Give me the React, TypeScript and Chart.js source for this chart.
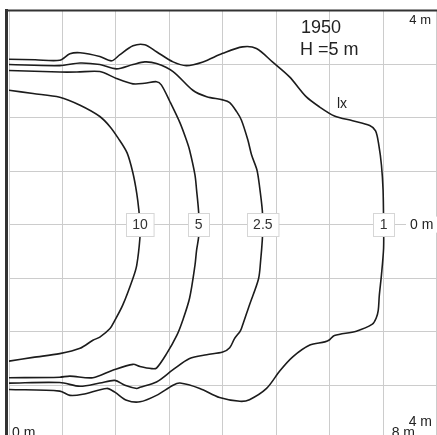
import { useEffect, useRef } from "react";
import { Chart, registerables } from "chart.js";

Chart.register(...registerables);

// Isolux contours (metres): x along the road, y across (0 = luminaire axis)
const levels = ["10", "5", "2.5", "1"];
const levelCrossX = [2.45, 3.55, 4.75, 7.01];

const x10 = [0, 0.45, 0.95, 1.33, 1.70, 1.89, 2.04, 2.21, 2.32, 2.39, 2.43, 2.45,
  2.45, 2.39, 2.32, 2.13, 1.98, 1.89, 1.70, 1.57, 1.33, 0.95, 0.45, 0];
const y10 = [2.51, 2.45, 2.38, 2.23, 2.02, 1.83, 1.62, 1.34, 0.96, 0.59, 0.27, 0,
  -0.25, -0.76, -1.00, -1.50, -1.79, -1.94, -2.10, -2.16, -2.31, -2.41, -2.48, -2.55];

const x5 = [0, 0.95, 1.27, 1.70, 2.01, 2.32, 2.54, 2.76, 2.85, 3.01, 3.20, 3.32, 3.38, 3.48, 3.51, 3.55, 3.55,
  3.55, 3.51, 3.48, 3.38, 3.25, 3.14, 2.95, 2.76, 2.67, 2.45, 2.32, 1.94, 1.57, 1.14, 0.95, 0];
const y5 = [2.88, 2.85, 2.85, 2.86, 2.73, 2.63, 2.64, 2.67, 2.61, 2.30, 1.90, 1.58, 1.39, 0.93, 0.65, 0.22, 0,
  -0.22, -0.48, -0.76, -1.37, -1.79, -2.07, -2.41, -2.68, -2.69, -2.65, -2.61, -2.72, -2.86, -2.83, -2.85, -2.86];

const x25 = [0, 0.95, 1.33, 1.70, 2.01, 2.32, 2.54, 2.76, 3.07, 3.44, 3.70, 4.00, 4.13, 4.26, 4.35, 4.47, 4.54, 4.64, 4.69, 4.74, 4.75,
  4.74, 4.71, 4.67, 4.50, 4.35, 4.32, 4.22, 4.13, 4.00, 3.70, 3.38, 3.07, 2.76, 2.45, 2.39, 2.17, 1.98, 1.70, 1.33, 0.95, 0];
const y25 = [2.99, 2.97, 3.02, 2.99, 2.91, 2.99, 3.04, 3.01, 2.86, 2.51, 2.39, 2.33, 2.28, 2.11, 1.95, 1.58, 1.30, 1.02, 0.70, 0.27, 0,
  -0.29, -0.66, -1.01, -1.50, -1.94, -2.00, -2.13, -2.30, -2.38, -2.43, -2.50, -2.71, -2.94, -3.04, -3.06, -3.00, -2.91, -2.96, -3.02, -2.95, -2.96];

const x1 = [0, 0.49, 0.95, 1.14, 1.33, 1.70, 1.92, 2.07, 2.32, 2.54, 2.76, 3.07, 3.32, 3.63, 4.00, 4.37, 4.63, 4.93, 5.25, 5.56,
  5.81, 6.09, 6.43, 6.75, 6.86, 6.92, 6.97, 7.00, 7.01,
  7.01, 6.97, 6.93, 6.91, 6.87, 6.80, 6.50, 6.09, 6.00, 5.91, 5.63, 5.31, 5.07, 4.82, 4.50, 4.32, 3.94, 3.57, 3.20, 3.07,
  2.76, 2.45, 2.20, 1.98, 1.83, 1.38, 1.14, 0.95, 0];
const y1 = [3.09, 3.08, 3.07, 3.19, 3.21, 3.14, 3.06, 3.17, 3.34, 3.36, 3.23, 3.04, 2.97, 3.04, 3.20, 3.32, 3.29, 3.04, 2.76, 2.39,
  2.20, 2.03, 1.94, 1.85, 1.75, 1.49, 1.11, 0.65, 0,
  -0.44, -0.94, -1.32, -1.60, -1.75, -1.86, -1.99, -2.07, -2.15, -2.19, -2.25, -2.47, -2.73, -3.06, -3.27, -3.30, -3.23, -3.06, -2.96, -3.00,
  -3.19, -3.31, -3.28, -3.13, -3.06, -3.17, -3.19, -3.11, -3.08];

const xRange = [0, 8];
const yRange = [-3.93, 4];

const FONT = '"Liberation Sans", Arial, Helvetica, sans-serif';

const pts = (xs: number[], ys: number[]) => xs.map((x, i) => ({ x, y: ys[i] }));

const framePlugin = {
  id: "frame",
  afterDatasetsDraw(chart: any) {
    const { ctx, scales } = chart;
    const xs = scales.x, ys = scales.y;
    const cy = ys.getPixelForValue(0);
    ctx.save();
    ctx.font = `14px ${FONT}`;
    ctx.textAlign = "center";
    ctx.textBaseline = "middle";
    levels.forEach((lab, i) => {
      const cx = xs.getPixelForValue(levelCrossX[i]);
      const tw = ctx.measureText(lab).width;
      const w = Math.max(tw + 12, 21);
      const h = 23;
      const left = Math.round(cx - w / 2) + 0.5;
      const top = Math.round(cy - h / 2) + 0.5;
      ctx.fillStyle = "#ffffff";
      ctx.fillRect(left, top, w, h);
      ctx.strokeStyle = "#d6d6d6";
      ctx.lineWidth = 1;
      ctx.strokeRect(left, top, w, h);
      ctx.fillStyle = "#333333";
      ctx.fillText(lab, cx, cy + 0.5);
    });
    ctx.restore();
  },
  afterDraw(chart: any) {
    const { ctx, chartArea, scales } = chart;
    const ys = scales.y;
    ctx.save();
    // frame
    ctx.strokeStyle = "#333333";
    ctx.lineWidth = 3;
    ctx.beginPath();
    ctx.moveTo(6.5, chartArea.top - 1.5);
    ctx.lineTo(6.5, chart.height);
    ctx.stroke();
    ctx.lineWidth = 2;
    ctx.beginPath();
    ctx.moveTo(5, chartArea.top);
    ctx.lineTo(chart.width, chartArea.top);
    ctx.stroke();

    ctx.fillStyle = "#222222";
    ctx.textBaseline = "alphabetic";
    ctx.textAlign = "left";
    ctx.font = `18px ${FONT}`;
    ctx.fillText("1950", 301, 33);
    ctx.fillText("H =5 m", 300, 55);
    ctx.font = `14px ${FONT}`;
    ctx.fillText("lx", 337, 108);

    ctx.font = `13px ${FONT}`;
    ctx.textAlign = "right";
    ctx.fillText("4 m", 431, 24);

    // right middle label with white background
    ctx.font = `14px ${FONT}`;
    const midY = ys.getPixelForValue(0);
    const t0 = "0 m";
    const w0 = ctx.measureText(t0).width;
    ctx.fillStyle = "#ffffff";
    ctx.fillRect(406, midY - 8, w0 + 8, 16);
    ctx.fillStyle = "#222222";
    ctx.textAlign = "left";
    ctx.textBaseline = "middle";
    ctx.fillText(t0, 410, midY + 0.5);

    ctx.textBaseline = "alphabetic";
    ctx.textAlign = "right";
    ctx.fillText("4 m", 432, 426);
    ctx.fillText("8 m", 415, 437);
    ctx.textAlign = "left";
    ctx.fillText("0 m", 12, 437);
    ctx.restore();
  },
};

export default function App() {
  const ref = useRef<HTMLCanvasElement>(null);
  useEffect(() => {
    const canvas = ref.current;
    if (!canvas) return;
    const series = [
      pts(x10, y10),
      pts(x5, y5),
      pts(x25, y25),
      pts(x1, y1),
    ];
    const chart = new Chart(canvas, {
      type: "scatter",
      data: {
        datasets: series.map((d, i) => ({
          label: levels[i],
          data: d,
          showLine: true,
          pointRadius: 0,
          pointHoverRadius: 0,
          borderColor: "#1c1c1c",
          borderWidth: 1.6,
          tension: 0.3,
          fill: false,
        })),
      },
      options: {
        responsive: false,
        animation: false,
        events: [],
        layout: { padding: { left: 9, top: 10.5, right: 0.5, bottom: 0 } },
        plugins: { legend: { display: false }, tooltip: { enabled: false } },
        scales: {
          x: {
            type: "linear",
            min: xRange[0],
            max: xRange[1],
            ticks: { display: false, stepSize: 1 },
            grid: { color: "#cccccc", lineWidth: 1, drawTicks: false },
            border: { display: false },
          },
          y: {
            type: "linear",
            min: yRange[0],
            max: yRange[1],
            ticks: { display: false, stepSize: 1 },
            grid: { color: "#cccccc", lineWidth: 1, drawTicks: false },
            border: { display: false },
          },
        },
      },
      plugins: [framePlugin],
    } as any);
    return () => chart.destroy();
  }, []);
  return (
    <div style={{ position: "fixed", left: 0, top: 0, width: 437, height: 435, background: "#ffffff" }}>
      <canvas ref={ref} width={437} height={435} style={{ display: "block", width: 437, height: 435 }} />
    </div>
  );
}
